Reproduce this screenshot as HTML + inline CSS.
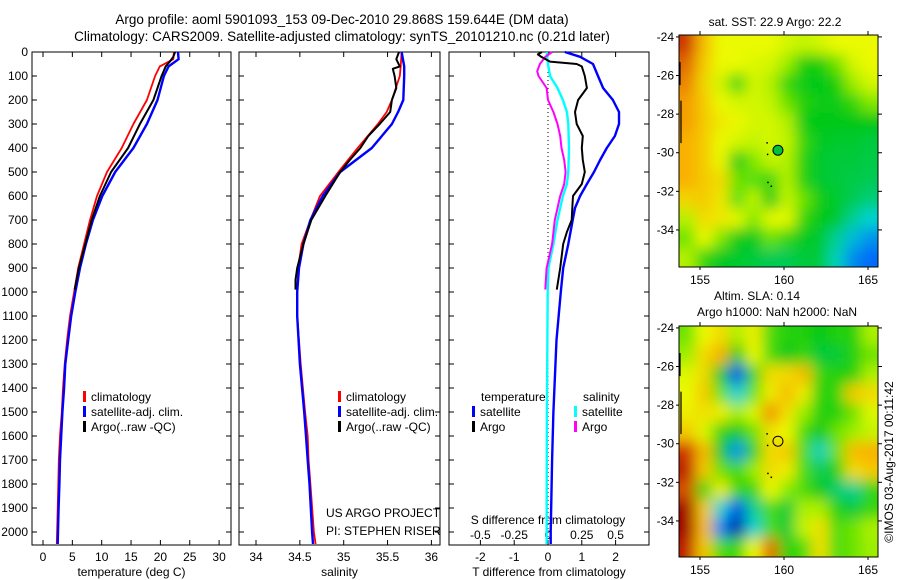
<!DOCTYPE html>
<html><head><meta charset="utf-8"><style>
html,body{margin:0;padding:0;background:#fff;}
svg{display:block;font-family:"Liberation Sans",sans-serif;}
</style></head><body>
<svg id="c" width="900" height="580" viewBox="0 0 900 580" xmlns="http://www.w3.org/2000/svg">
<defs>
<filter id="blur" x="-10%" y="-10%" width="120%" height="120%"><feGaussianBlur stdDeviation="7"/></filter>
<clipPath id="clipTop"><rect x="679" y="35" width="199" height="232"/></clipPath>
<clipPath id="clipBot"><rect x="679" y="326" width="199" height="231"/></clipPath>
</defs>
<text x="342" y="24" font-size="13.5" text-anchor="middle">Argo profile: aoml 5901093_153 09-Dec-2010 29.868S 159.644E (DM data)</text>
<text x="342" y="41" font-size="13.5" text-anchor="middle">Climatology: CARS2009. Satellite-adjusted climatology: synTS_20101210.nc (0.21d later)</text>
<g id="g"></g>
</svg>
<script>
// ---- data ----
const depthT = [0,30,60,100,200,300,400,500,600,700,800,900,1000,1100,1200,1300,1400,1500,1600,1700,1800,1900,2000,2050];
const tempClim = [22.3,22.2,19.9,19.1,17.7,15.4,13.4,10.9,9.2,8.0,7.0,6.0,5.3,4.6,4.1,3.7,3.4,3.2,2.9,2.7,2.6,2.5,2.4,2.35];
const tempSat = [23.0,23.1,21.4,20.6,19.5,17.7,15.4,12.3,10.1,8.5,7.3,6.3,5.5,4.8,4.3,3.8,3.6,3.3,3.1,2.9,2.8,2.65,2.55,2.5];
const depthArgo = [0,20,40,60,100,200,300,400,500,600,700,800,900,990];
const tempArgo = [22.5,22.2,21.6,20.9,20.2,18.8,16.5,14.5,11.6,9.7,8.3,7.2,6.1,5.4];
const depthS = [0,60,100,200,250,300,400,500,600,700,800,900,1000,1100,1300,1500,1600,1700,1800,2000,2050];
const salClim = [35.66,35.65,35.64,35.55,35.49,35.39,35.16,34.94,34.73,34.62,34.52,34.48,34.47,34.47,34.51,34.56,34.59,34.6,34.62,34.66,34.68];
const salSat = [35.66,35.69,35.69,35.68,35.62,35.55,35.32,34.96,34.76,34.62,34.54,34.49,34.47,34.47,34.5,34.55,34.57,34.59,34.61,34.64,34.65];
const depthSA = [0,30,60,70,100,150,200,250,300,350,400,450,500,600,700,800,900,950,990];
const salArgo = [35.63,35.6,35.64,35.56,35.58,35.6,35.55,35.53,35.41,35.28,35.19,35.07,34.96,34.79,34.63,34.54,34.47,34.45,34.45];
const depthD = [0,20,50,100,150,200,250,300,350,400,450,500,550,600,650,700,800,900,1000,1200,1500,1700,2000,2050];
const tDiffSat = [0.5,0.95,1.33,1.48,1.63,1.92,2.1,2.1,1.98,1.74,1.54,1.36,1.15,0.95,0.8,0.73,0.6,0.45,0.38,0.25,0.16,0.12,0.08,0.08];
const depthDA = [0,10,20,40,50,60,100,150,200,250,300,350,400,450,500,550,600,650,700,750,800,900,990];
const tDiffArgo = [-0.18,-0.3,-0.2,0.06,0.85,1.0,1.09,1.15,0.89,0.8,0.85,1.03,1.0,1.03,1.09,1.0,0.74,0.72,0.7,0.56,0.45,0.36,0.26];
const depthSD = [0,20,50,80,100,150,200,250,300,350,400,450,500,550,600,700,800,900,990];
const sDiffArgo = [0.03,-0.02,-0.06,-0.08,-0.07,-0.01,0,0.04,0.07,0.09,0.1,0.12,0.13,0.12,0.09,0.05,0.03,-0.01,-0.02];
const depthSS = [0,50,100,150,200,250,300,400,500,550,600,700,800,900,1000,1500,2050];
const sDiffSat = [-0.01,0,0.015,0.07,0.11,0.14,0.15,0.155,0.15,0.14,0.11,0.07,0.04,0.003,-0.002,-0.008,-0.01];
const depthTicks = [0,100,200,300,400,500,600,700,800,900,1000,1100,1200,1300,1400,1500,1600,1700,1800,1900,2000];
const tTicks = [0,5,10,15,20,25,30];
const sTicks = [34,34.5,35,35.5,36];
const dTTicks = [-2,-1,0,1,2];
const dSTicks = [-0.5,-0.25,0,0.25,0.5];
const dSTickLabels = ["-0.5","-0.25","0","0.25","0.5"];
const latTicks = [-24,-26,-28,-30,-32,-34];
const lonTicks = [155,160,165];
const sstGrid = [
[0.92,0.8,0.7,0.7,0.7,0.7,0.67,0.65,0.67,0.7,0.7,0.7],
[0.88,0.78,0.7,0.7,0.68,0.67,0.6,0.47,0.47,0.55,0.67,0.7],
[0.86,0.76,0.67,0.5,0.67,0.63,0.5,0.46,0.45,0.47,0.6,0.67],
[0.84,0.78,0.7,0.67,0.67,0.65,0.55,0.48,0.46,0.46,0.5,0.57],
[0.84,0.78,0.73,0.7,0.67,0.67,0.63,0.46,0.45,0.45,0.45,0.45],
[0.82,0.78,0.7,0.67,0.65,0.67,0.65,0.5,0.44,0.43,0.43,0.42],
[0.82,0.78,0.7,0.46,0.57,0.65,0.63,0.48,0.43,0.42,0.42,0.41],
[0.82,0.78,0.75,0.55,0.53,0.5,0.63,0.48,0.43,0.42,0.41,0.4],
[0.76,0.78,0.73,0.53,0.65,0.46,0.65,0.55,0.46,0.43,0.4,0.37],
[0.63,0.75,0.73,0.69,0.57,0.69,0.69,0.5,0.45,0.43,0.35,0.3],
[0.55,0.7,0.57,0.46,0.44,0.55,0.5,0.44,0.43,0.35,0.27,0.22],
[0.63,0.5,0.44,0.43,0.42,0.4,0.4,0.42,0.42,0.32,0.21,0.17]];
const slaGrid = [
[0.55,0.7,0.75,0.62,0.72,0.52,0.48,0.48,0.45,0.48,0.48,0.62],
[0.6,0.75,0.82,0.45,0.7,0.52,0.45,0.5,0.42,0.42,0.48,0.55],
[0.68,0.75,0.45,0.12,0.5,0.75,0.75,0.8,0.5,0.48,0.48,0.62],
[0.7,0.78,0.55,0.3,0.55,0.72,0.8,0.72,0.48,0.5,0.78,0.75],
[0.72,0.74,0.72,0.6,0.68,0.85,0.74,0.6,0.48,0.48,0.55,0.68],
[0.78,0.68,0.5,0.45,0.55,0.74,0.7,0.52,0.45,0.55,0.6,0.65],
[0.92,0.8,0.45,0.22,0.48,0.75,0.78,0.52,0.32,0.55,0.8,0.82],
[0.95,0.78,0.55,0.5,0.6,0.75,0.72,0.52,0.4,0.48,0.75,0.78],
[0.9,0.5,0.72,0.5,0.5,0.7,0.58,0.52,0.45,0.38,0.35,0.5],
[1.0,0.78,0.3,0.12,0.35,0.52,0.42,0.62,0.62,0.48,0.42,0.5],
[1.0,0.8,0.2,0.02,0.3,0.52,0.42,0.65,0.74,0.52,0.55,0.62],
[0.95,0.78,0.52,0.5,0.7,0.88,0.48,0.52,0.74,0.52,0.55,0.6]];

// ---- helpers ----
const NS="http://www.w3.org/2000/svg";
const G=document.getElementById('g');
function mk(tag,attrs,parent){const e=document.createElementNS(NS,tag);for(const k in attrs)e.setAttribute(k,attrs[k]);(parent||G).appendChild(e);return e;}
function txt(x,y,s,size,anchor,parent){const t=mk('text',{x:x,y:y,'font-size':size,'text-anchor':anchor||'middle'},parent);t.textContent=s;return t;}
const Y=d=>52+d*0.24;
const xT=v=>43+v*5.87;
const xS=v=>256+(v-34)*87.7;
const xDT=v=>548+v*33.8;
const xDS=v=>548+v*135.2;
function line(depths,vals,xf,color,w,name){
  const pts=depths.map((d,i)=>xf(vals[i]).toFixed(1)+','+Y(d).toFixed(1)).join(' ');
  const p=mk('polyline',{points:pts,fill:'none',stroke:color,'stroke-width':w,'stroke-linejoin':'round'});
  
  
}
function panel(x0,x1,ticks,xf,labels,xlabel,name){
  const f=mk('rect',{x:x0,y:52,width:x1-x0,height:493,fill:'none',stroke:'#000','stroke-width':1});
  
  
  depthTicks.forEach(d=>{mk('line',{x1:x0,y1:Y(d),x2:x0+5,y2:Y(d),stroke:'#000'});mk('line',{x1:x1-5,y1:Y(d),x2:x1,y2:Y(d),stroke:'#000'});});
  ticks.forEach((t,i)=>{const x=xf(t);mk('line',{x1:x,y1:52,x2:x,y2:57,stroke:'#000'});mk('line',{x1:x,y1:540,x2:x,y2:545,stroke:'#000'});
    const l=txt(x,561,labels[i],12);});
  const xl=txt((x0+x1)/2,576,xlabel,12);
  
  
}
function legendItem(x,y,color,label,name){
  const r=mk('rect',{x:x,y:y-10,width:3,height:11,fill:color});
  
  
  const t=txt(x+8,y,label,12,'start');
  
  
}
depthTicks.forEach(d=>{const t=txt(28,Y(d)+4,String(d),12,'end');});

// panel 1
panel(32,231,tTicks,xT,tTicks.map(String),'temperature (deg C)','temperature-panel');
line(depthT,tempClim,xT,'#ff0000',1.8,'temp-climatology-line');
line(depthT,tempSat,xT,'#0000ff',2.4,'temp-satellite-line');
line(depthArgo,tempArgo,xT,'#000000',2,'temp-argo-line');
legendItem(83,401,'#ff0000','climatology','legend-climatology');
legendItem(83,416,'#0000ff','satellite-adj. clim.','legend-satellite');
legendItem(83,431,'#000000','Argo(..raw -QC)','legend-argo');

// panel 2
panel(239,440,sTicks,xS,['34','34.5','35','35.5','36'],'salinity','salinity-panel');
line(depthS,salClim,xS,'#ff0000',1.8,'sal-climatology-line');
line(depthS,salSat,xS,'#0000ff',2.4,'sal-satellite-line');
line(depthSA,salArgo,xS,'#000000',2,'sal-argo-line');
legendItem(338,401,'#ff0000','climatology','legend2-climatology');
legendItem(338,416,'#0000ff','satellite-adj. clim.','legend2-satellite');
legendItem(338,431,'#000000','Argo(..raw -QC)','legend2-argo');
let t1=txt(326,517,'US ARGO PROJECT',12,'start');
let t2=txt(326,535,'PI: STEPHEN RISER',12,'start');

// panel 3
panel(449,649,dTTicks,xDT,dTTicks.map(String),'T difference from climatology','difference-panel');
mk('line',{x1:548,y1:52,x2:548,y2:545,stroke:'#000','stroke-dasharray':'1,3'});
dSTicks.forEach((t,i)=>{const l=txt(xDS(t),539,dSTickLabels[i],12);});
let t3=txt(548,524,'S difference from climatology',12);
line(depthSS,sDiffSat,xDS,'#00ffff',2.4,'s-diff-satellite-line');
line(depthSD,sDiffArgo,xDS,'#ff00ff',2,'s-diff-argo-line');
line(depthD,tDiffSat,xDT,'#0000ff',2.4,'t-diff-satellite-line');
line(depthDA,tDiffArgo,xDT,'#000000',2,'t-diff-argo-line');
let t4=txt(481,401,'temperature',12,'start');
let t5=txt(583,401,'salinity',12,'start');
legendItem(472,416,'#0000ff','satellite','legend3-t-satellite');
legendItem(472,431,'#000000','Argo','legend3-t-argo');
legendItem(574,416,'#00ffff','satellite','legend3-s-satellite');
legendItem(574,431,'#ff00ff','Argo','legend3-s-argo');

// maps
const stops=[[0,[0,0,150]],[0.15,[0,90,255]],[0.3,[0,210,210]],[0.45,[0,200,20]],[0.58,[140,235,0]],[0.7,[235,250,0]],[0.83,[250,170,0]],[0.93,[200,40,0]],[1,[160,0,0]]];
function cmap(v){for(let i=1;i<stops.length;i++){if(v<=stops[i][0]){const a=stops[i-1],b=stops[i],f=(v-a[0])/(b[0]-a[0]);const c=a[1].map((x,k)=>Math.round(x+(b[1][k]-x)*f));return 'rgb('+c.join(',')+')';}}return 'rgb(160,0,0)';}
function map(grid,y0,h,clip,name){
  const x0=679,w=199,lat0=-23.9,latPx=19.3,lon0=153.75,lonPx=16.8;
  const g=mk('g',{'clip-path':'url(#'+clip+')'});
  
  
  const inner=mk('g',{filter:'url(#blur)'},g);
  const rows=grid.length,cols=grid[0].length,cw=w/cols,ch=h/rows;
  grid.forEach((row,r)=>row.forEach((v,c)=>{
    let x=x0+c*cw,y=y0+r*ch,ww=cw+1,hh=ch+1;
    if(c===0){x-=20;ww+=20;} if(c===cols-1){ww+=20;}
    if(r===0){y-=20;hh+=20;} if(r===rows-1){hh+=20;}
    const cell=mk('rect',{x:x,y:y,width:ww,height:hh,fill:cmap(v)},inner);
    
    
  }));
  const fr=mk('rect',{x:x0,y:y0,width:w,height:h,fill:'none',stroke:'#000'});
  
  
  const ly=lat=>y0+(lat0-lat)*latPx, lx=lon=>x0+(lon-lon0)*lonPx;
  latTicks.forEach(l=>{const y=ly(l);mk('line',{x1:x0+w,y1:y,x2:x0+w+4,y2:y,stroke:'#000'});mk('line',{x1:x0-3,y1:y,x2:x0,y2:y,stroke:'#000'});
    const t=txt(x0-5,y+4,String(l),12,'end');});
  lonTicks.forEach(l=>{const x=lx(l);mk('line',{x1:x,y1:y0-4,x2:x,y2:y0,stroke:'#000'});mk('line',{x1:x,y1:y0+h,x2:x,y2:y0+h+3,stroke:'#000'});
    const t=txt(x,y0+h+17,String(l),12);});
  mk('path',{d:'M'+(x0+1)+','+ly(-25.3)+' v'+(latPx*1.2)+' M'+(x0+2)+','+ly(-27.3)+' v'+(latPx*2.2),stroke:'#000','stroke-width':1.2,fill:'none'});
  const pc=mk('circle',{cx:lx(159.64),cy:ly(-29.87),r:5,fill:name==='sst-map'?'#00c040':'none',stroke:'#000'});
  
  
  [[158.95,-29.45],[158.98,-30.05],[159.0,-31.5],[159.2,-31.7]].forEach(p=>mk('rect',{x:lx(p[0]),y:ly(p[1]),width:1.5,height:1.5,fill:'#000'}));
}
map(sstGrid,35,232,'clipTop','sst-map');
map(slaGrid,326,231,'clipBot','sla-map');
let m1=txt(775,26,'sat. SST: 22.9  Argo: 22.2',12);
let m2=txt(757,300,'Altim. SLA: 0.14',12);
let m3=txt(777,316,'Argo h1000: NaN h2000: NaN',12);
let cr=txt(0,0,'©IMOS 03-Aug-2017 00:11:42',12);
cr.setAttribute('transform','translate(893,462) rotate(-90)');


</script>
</body></html>
